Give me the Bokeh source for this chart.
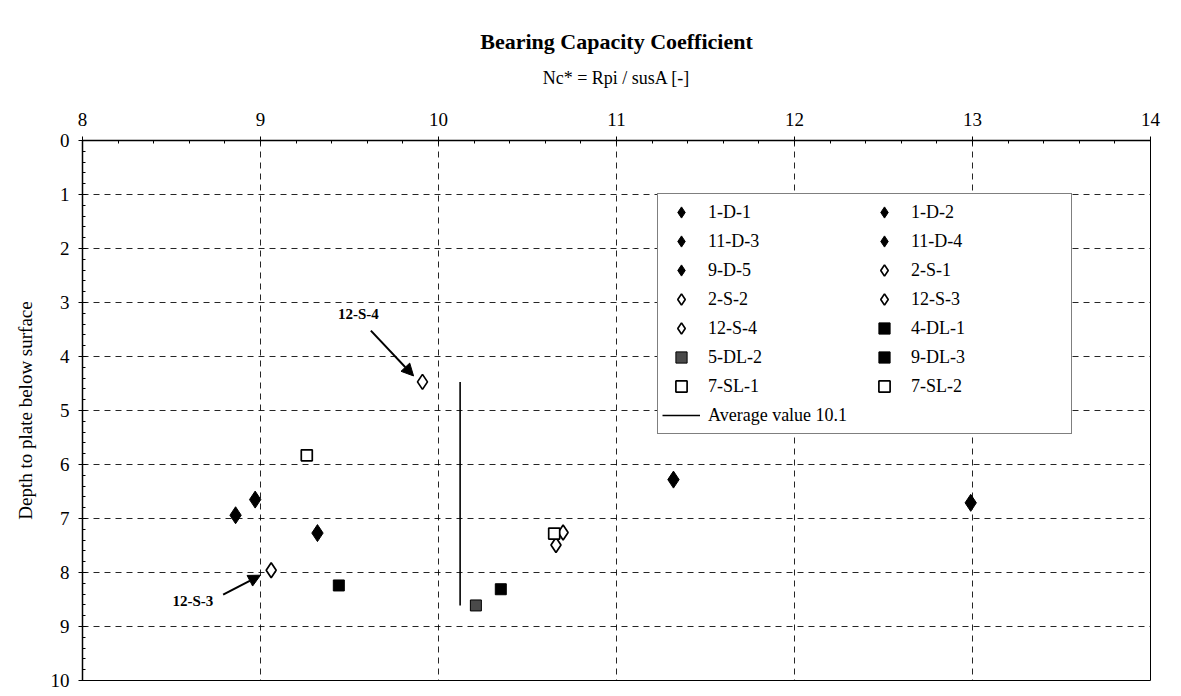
from bokeh.plotting import figure
from bokeh.models import (Range1d, FixedTicker, Legend, LegendItem, Arrow,
                          NormalHead, Label)
from bokeh.embed import file_html
from bokeh.resources import INLINE

# Nc* (x) and depth of plate below surface (y) for each test
d_names = ["1-D-1", "1-D-2", "11-D-3", "11-D-4", "9-D-5"]
d_nc = [8.86, 8.97, 9.32, 11.32, 12.99]
d_depth = [6.94, 6.65, 7.27, 6.28, 6.71]

s_names = ["2-S-1", "2-S-2", "12-S-3", "12-S-4"]
s_nc = [10.70, 10.66, 9.06, 9.91]
s_depth = [7.26, 7.49, 7.96, 4.47]

dl_names = ["4-DL-1", "5-DL-2", "9-DL-3"]
dl_nc = [9.44, 10.21, 10.35]
dl_depth = [8.24, 8.61, 8.31]

sl_names = ["7-SL-1", "7-SL-2"]
sl_nc = [9.26, 10.65]
sl_depth = [5.83, 7.28]

x_ticks = [8, 9, 10, 11, 12, 13, 14]
y_ticks = [0, 1, 2, 3, 4, 5, 6, 7, 8, 9, 10]

# annotation callouts: label position, arrow tail, arrow head (data units)
callouts = [
    ("12-S-4", (9.55, 3.22), (9.62, 3.52), (9.86, 4.36)),
    ("12-S-3", (8.62, 8.52), (8.79, 8.41), (9.00, 8.05)),
]

SERIF = "Liberation Serif"

p = figure(width=1181, height=696,
           x_range=Range1d(8, 14), y_range=Range1d(10, 0),
           x_axis_location="above",
           output_backend="svg", toolbar_location=None,
           min_border_left=82, min_border_right=31,
           min_border_top=140, min_border_bottom=16,
           background_fill_color="white", border_fill_color="white")

p.title.text = "Bearing Capacity Coefficient"
p.title.align = "center"
p.title.text_font = SERIF
p.title.text_font_size = "22px"
p.title.text_font_style = "bold"
p.title.text_color = "black"
p.title.standoff = 22

p.outline_line_color = "black"
p.outline_line_width = 1

# axes
xa = p.xaxis[0]
xa.ticker = FixedTicker(ticks=x_ticks,
                        minor_ticks=[round(8 + 0.2 * i, 2) for i in range(31)])
xa.axis_label = "Nc* = Rpi / susA [-]"
ya = p.yaxis[0]
ya.ticker = FixedTicker(ticks=y_ticks,
                        minor_ticks=[round(0.2 * i, 2) for i in range(51)])
ya.axis_label = "Depth to plate below surface"

for ax in (xa, ya):
    ax.axis_line_color = "black"
    ax.axis_line_width = 1.5
    ax.major_tick_line_color = "black"
    ax.major_tick_in = 4
    ax.major_tick_out = 4
    ax.minor_tick_line_color = "black"
    ax.minor_tick_in = 3
    ax.minor_tick_out = 0
    ax.major_label_text_font = SERIF
    ax.major_label_text_font_size = "19px"
    ax.major_label_text_color = "black"
    ax.axis_label_text_font = SERIF
    ax.axis_label_text_font_size = "19px"
    ax.axis_label_text_font_style = "normal"
    ax.axis_label_text_color = "black"

xa.axis_label_text_font_size = "18px"
xa.major_label_standoff = 11
xa.axis_label_standoff = 22
ya.major_label_standoff = 9
ya.axis_label_standoff = 12

for g in (p.xgrid[0], p.ygrid[0]):
    g.grid_line_color = "black"
    g.grid_line_dash = "6 5"
    g.grid_line_width = 1
    g.grid_line_alpha = 0.85

items = []

# driven (filled diamonds)
for name, x, y in zip(d_names, d_nc, d_depth):
    r = p.scatter([x], [y], marker="diamond", size=17,
                  fill_color="black", line_color="black")
    items.append((name, r))

# suction (open diamonds)
for name, x, y in zip(s_names, s_nc, s_depth):
    r = p.scatter([x], [y], marker="diamond", size=15,
                  fill_color="white", line_color="black", line_width=1.7)
    items.append((name, r))

# driven, loaded (filled squares; 5-DL-2 shaded)
for name, x, y in zip(dl_names, dl_nc, dl_depth):
    fill = "#4a4a4a" if name == "5-DL-2" else "black"
    r = p.scatter([x], [y], marker="square", size=11,
                  fill_color=fill, line_color="black", line_width=1)
    items.append((name, r))

# suction, loaded (open squares)
for name, x, y in zip(sl_names, sl_nc, sl_depth):
    r = p.scatter([x], [y], marker="square", size=11,
                  fill_color="white", line_color="black", line_width=1.7)
    items.append((name, r))

# average Nc* over all tests, spanning the tested depth range
all_nc = d_nc + s_nc + dl_nc + sl_nc
all_depth = d_depth + s_depth + dl_depth + sl_depth
avg = sum(all_nc) / len(all_nc)
avg_line = p.line([avg, avg], [min(all_depth), max(all_depth)],
                  line_color="black", line_width=1.6)

order = ["1-D-1", "1-D-2", "11-D-3", "11-D-4", "9-D-5", "2-S-1",
         "2-S-2", "12-S-3", "12-S-4", "4-DL-1", "5-DL-2", "9-DL-3",
         "7-SL-1", "7-SL-2"]
lookup = dict(items)
legend_items = [LegendItem(label=n, renderers=[lookup[n]]) for n in order]
legend_items.append(LegendItem(label=f"Average value {avg:.1f}",
                               renderers=[avg_line]))

legend = Legend(items=legend_items, orientation="horizontal", ncols=2,
                location=(575, 246),
                glyph_width=38, glyph_height=28, label_height=20,
                label_width=156, label_standoff=8, spacing=1, padding=4,
                label_text_font=SERIF, label_text_font_size="18px",
                label_text_color="black",
                border_line_color="black", border_line_width=1,
                background_fill_color="white", background_fill_alpha=1)
p.add_layout(legend, "center")

for text, (lx, ly), (tx, ty), (hx, hy) in callouts:
    p.add_layout(Arrow(end=NormalHead(size=12, fill_color="black",
                                      line_color="black"),
                       x_start=tx, y_start=ty, x_end=hx, y_end=hy,
                       line_color="black", line_width=2))
    p.add_layout(Label(x=lx, y=ly, text=text, text_font=SERIF,
                       text_font_size="15px", text_font_style="bold",
                       text_align="center", text_baseline="middle",
                       text_color="black"))

open("out.html", "w").write(file_html(p, INLINE))
